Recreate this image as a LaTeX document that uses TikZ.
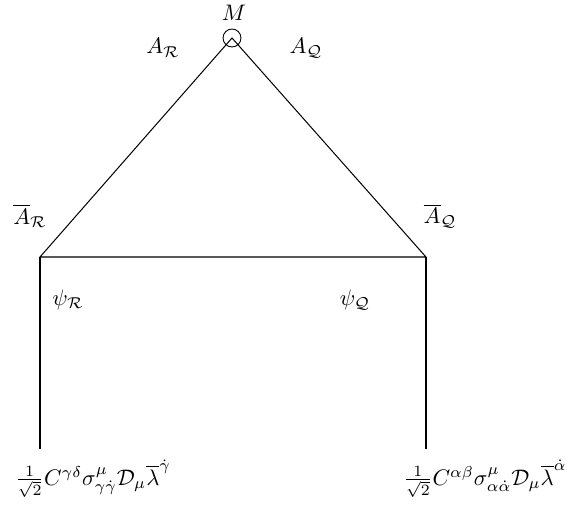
\documentclass[tikz,border=0pt]{standalone}
\usepackage{amsmath}
\begin{document}
\begin{tikzpicture}[x=0.445pt,y=-0.445pt,
  lbl/.style={inner sep=0pt},
  edge/.style={line width=0.45pt}]
\useasboundingbox (0,0) rectangle (574,505);
\coordinate (top) at (232,38);
\coordinate (l) at (40,257);
\coordinate (r) at (426,257);
\coordinate (lb) at (40,449);
\coordinate (rb) at (426,449);
\node[circle,draw,minimum size=8pt,inner sep=0pt] (m) at (top) {};
\draw[edge] (top) -- (l) -- (r) -- cycle;
\draw[edge] (l) -- (lb);
\draw[edge] (r) -- (rb);
\node[lbl] (lM) at (234,13) {$M$};
\node[lbl] (lAR) at (163,48) {$A_{\mathcal{R}}$};
\node[lbl] (lAQ) at (306,48) {$A_{\mathcal{Q}}$};
\node[lbl] (lbAR) at (30,216) {$\overline{A}_{\mathcal{R}}$};
\node[lbl] (lbAQ) at (440,216) {$\overline{A}_{\mathcal{Q}}$};
\node[lbl] (lpR) at (68,300) {$\psi_{\mathcal{R}}$};
\node[lbl] (lpQ) at (355,300) {$\psi_{\mathcal{Q}}$};
\node[lbl] (bl) at (93,479) {$\frac{1}{\sqrt{2}}C^{\gamma\delta}\sigma^{\mu}_{\gamma\dot\gamma}\mathcal{D}_\mu\overline{\lambda}^{\dot\gamma}$};
\node[lbl] (br) at (485,479) {$\frac{1}{\sqrt{2}}C^{\alpha\beta}\sigma^{\mu}_{\alpha\dot\alpha}\mathcal{D}_\mu\overline{\lambda}^{\dot\alpha}$};
\end{tikzpicture}
\end{document}
